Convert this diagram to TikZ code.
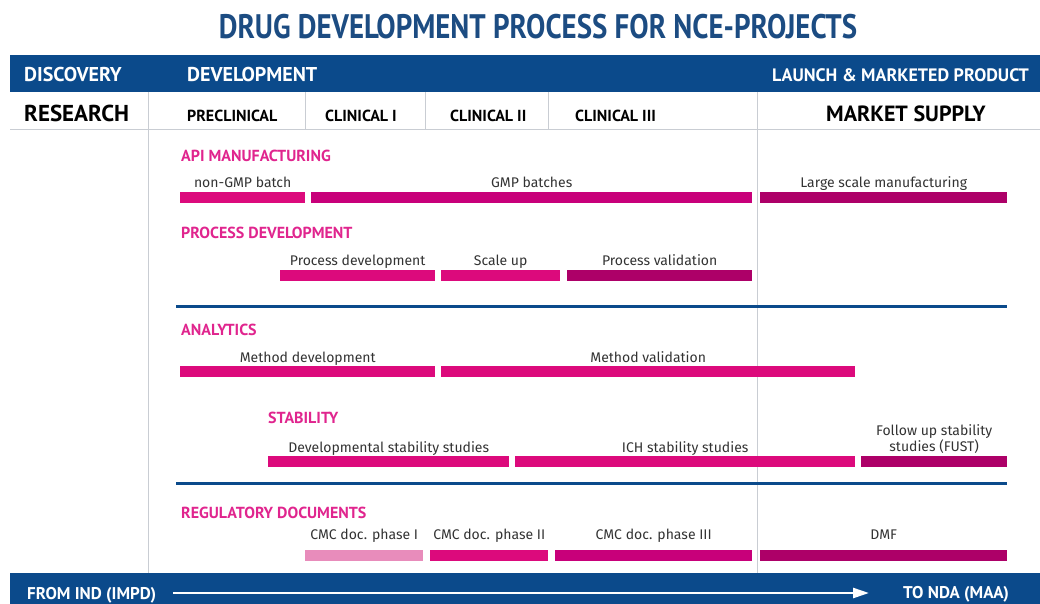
\documentclass[tikz,border=0pt]{standalone}
\usepackage{fontspec}
\setmainfont{Fira Sans}
\newfontfamily\headfont{PT Sans}
\newfontfamily\titlefont{PT Sans}[FakeStretch=0.85]
\usetikzlibrary{positioning, arrows.meta}

\definecolor{bandblue}{HTML}{0B4A8B}
\definecolor{titleblue}{HTML}{1C4C82}
\definecolor{barpink}{HTML}{DC0A7C}
\definecolor{barmid}{HTML}{C8007A}
\definecolor{bardark}{HTML}{AD0068}
\definecolor{barlight}{HTML}{E88CBB}
\definecolor{headpink}{HTML}{E0258E}
\definecolor{rulegray}{HTML}{C9CDD3}
\definecolor{labelgray}{HTML}{333333}

\begin{document}
\begin{tikzpicture}[x=1pt, y=-1pt,
    band/.style={fill=bandblue},
    bandtxt/.style={anchor=base west, inner sep=0, text=white,
      font=\headfont\bfseries\fontsize{20}{20}\selectfont},
    foottxt/.style={anchor=base west, inner sep=0, text=white,
      font=\headfont\bfseries\fontsize{17}{17}\selectfont},
    phasetxt/.style={anchor=base west, inner sep=0, text=black,
      font=\headfont\bfseries\fontsize{16}{16}\selectfont},
    bigtxt/.style={anchor=base west, inner sep=0, text=black,
      font=\headfont\bfseries\fontsize{23}{23}\selectfont},
    grouptxt/.style={anchor=base west, inner sep=0, text=headpink,
      font=\headfont\bfseries\fontsize{16}{16}\selectfont},
    phasebar/.style={anchor=north west, inner sep=0, minimum height=11pt, fill=barpink},
    bartxt/.style={inner sep=0, text depth=0pt, text=labelgray, align=center,
      font=\fontsize{14}{16}\selectfont},
    sepline/.style={rulegray, line width=1pt},
    groupline/.style={bandblue, line width=3pt}]

  \useasboundingbox (0,0) rectangle (1040,604);

  % title
  \node[anchor=base, inner sep=0, text=titleblue,
        font=\titlefont\bfseries\fontsize{34}{34}\selectfont] (title) at (538,39)
        {DRUG DEVELOPMENT PROCESS FOR NCE-PROJECTS};

  % bands
  \fill[band] (10,55) rectangle (1040,92);
  \fill[band] (10,573) rectangle (1040,604);

  % grid lines
  \draw[sepline] (10,130) -- (1040,130);
  \draw[sepline] (148,92) -- (148,573);
  \draw[sepline] (757,92) -- (757,573);
  \draw[sepline] (305,92) -- (305,130);
  \draw[sepline] (425,92) -- (425,130);
  \draw[sepline] (548,92) -- (548,130);
  \draw[groupline] (176,306) -- (1007,306);
  \draw[groupline] (176,483) -- (1007,483);

  % header texts
  \node[bandtxt] (disc)   at (24,82)  {DISCOVERY};
  \node[bandtxt] (devel)  at (187,82) {DEVELOPMENT};
  \node[bandtxt, font=\headfont\bfseries\fontsize{18}{18}\selectfont]
                 (launch) at (772,82) {LAUNCH \& MARKETED PRODUCT};

  \node[bigtxt]   (research) at (24,122)  {RESEARCH};
  \node[phasetxt] (precl)    at (187,122) {PRECLINICAL};
  \node[phasetxt] (clin1)    at (325,122) {CLINICAL I};
  \node[phasetxt] (clin2)    at (450,122) {CLINICAL II};
  \node[phasetxt] (clin3)    at (575,122) {CLINICAL III};
  \node[bigtxt, font=\headfont\bfseries\fontsize{22}{22}\selectfont]
                  (market)   at (826,122) {MARKET SUPPLY};

  % API manufacturing
  \node[grouptxt] (api) at (181,161) {API MANUFACTURING};
  \node[phasebar, minimum width=125pt] (nongmp) at (180,192) {};
  \node[phasebar, minimum width=441pt, fill=barmid] (gmp) at (311,192) {};
  \node[phasebar, minimum width=247pt, fill=bardark] (large) at (760,192) {};
  \node[bartxt, above=4pt of nongmp] (nongmpL) {non-GMP batch};
  \node[bartxt, above=4pt of gmp] (gmpL) {GMP batches};
  \node[bartxt, above=4pt of large] (largeL) {Large scale manufacturing};

  % process development
  \node[grouptxt] (procgrp) at (181,238) {PROCESS DEVELOPMENT};
  \node[phasebar, minimum width=155pt] (procdev) at (280,270) {};
  \node[phasebar, minimum width=119pt] (scaleup) at (441,270) {};
  \node[phasebar, minimum width=185pt, fill=bardark] (procval) at (567,270) {};
  \node[bartxt, above=4pt of procdev] (procdevL) {Process development};
  \node[bartxt, above=4pt of scaleup] (scaleupL) {Scale up};
  \node[bartxt, above=4pt of procval] (procvalL) {Process validation};

  % analytics
  \node[grouptxt] (anal) at (181,335) {ANALYTICS};
  \node[phasebar, minimum width=255pt] (methdev) at (180,366) {};
  \node[phasebar, minimum width=414pt] (methval) at (441,366) {};
  \node[bartxt, above=3pt of methdev] (methdevL) {Method development};
  \node[bartxt, above=3pt of methval] (methvalL) {Method validation};

  % stability
  \node[grouptxt] (stab) at (268,423) {STABILITY};
  \node[phasebar, minimum width=241pt] (devstab) at (268,456) {};
  \node[phasebar, minimum width=340pt] (ichstab) at (515,456) {};
  \node[phasebar, minimum width=146pt, fill=bardark] (fust) at (861,456) {};
  \node[bartxt, above=3pt of devstab] (devstabL) {Developmental stability studies};
  \node[bartxt, above=3pt of ichstab] (ichstabL) {ICH stability studies};
  \node[bartxt, above=4pt of fust] (fustL) {Follow up stability\\studies (FUST)};

  % regulatory documents
  \node[grouptxt] (regdoc) at (181,518) {REGULATORY DOCUMENTS};
  \node[phasebar, minimum width=118pt, fill=barlight] (cmc1) at (305,550) {};
  \node[phasebar, minimum width=118pt] (cmc2) at (430,550) {};
  \node[phasebar, minimum width=197pt, fill=barmid] (cmc3) at (555,550) {};
  \node[phasebar, minimum width=247pt, fill=bardark] (dmf) at (760,550) {};
  \node[bartxt, above=10pt of cmc1] (cmc1L) {CMC doc. phase I};
  \node[bartxt, above=10pt of cmc2] (cmc2L) {CMC doc. phase II};
  \node[bartxt, above=10pt of cmc3] (cmc3L) {CMC doc. phase III};
  \node[bartxt, above=10pt of dmf] (dmfL) {DMF};

  % bottom band
  \node[foottxt] (fromind) at (27,599)  {FROM IND (IMPD)};
  \node[foottxt] (tonda)   at (903,598) {TO NDA (MAA)};
  \coordinate (arrS) at (173,593);
  \coordinate (arrE) at (869,593);
  \draw[white, line width=2.5pt, -{Triangle[length=16pt,width=10pt]}] (arrS) -- (arrE);
\end{tikzpicture}
\end{document}
